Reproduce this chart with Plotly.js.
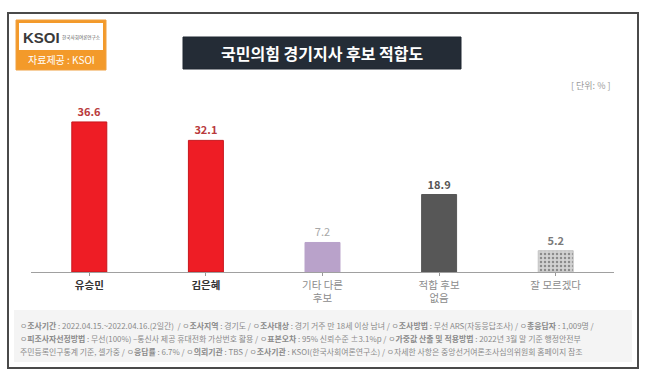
<!DOCTYPE html>
<html><head><meta charset="utf-8">
<script src="https://cdn.plot.ly/plotly-3.0.1.min.js"></script>
<style>html,body{margin:0;padding:0;background:#fff}#c{width:647px;height:378px}</style>
</head><body><div id="c"></div>
<script>
const categories = ['유승민', '김은혜', '기타 다른<br>후보', '적합 후보<br>없음', '잘 모르겠다'];
const values = [36.6, 32.1, 7.2, 18.9, 5.2];
const labelBold = [true, true, false, false, false];
const barColors = ['#EE1D25', '#EE1D25', '#B9A2CA', '#575757', '#D2D2D2'];
const barLines = ['#C8161D', '#C8161D', '#B9A2CA', '#575757', '#C4C4C4'];
const valueColors = ['#B93A3D', '#B93A3D', '#A8A8A8', '#555555', '#7A7A7A'];
const catColors = ['#333333', '#333333', '#8C8C8C', '#8C8C8C', '#8C8C8C'];
const titleText = '국민의힘 경기지사 후보 적합도';
const unitText = '[ 단위: % ]';
const footerLines = [
  'ㅇ<b>조사기간</b> : 2022.04.15.~2022.04.16.(2일간)  / ㅇ<b>조사지역</b> : 경기도 / ㅇ<b>조사대상</b> : 경기 거주 만 18세 이상 남녀 / ㅇ<b>조사방법</b> : 무선 ARS(자동응답조사) / ㅇ<b>총응답자</b> : 1,009명 /',
  'ㅇ<b>피조사자선정방법</b> : 무선(100%) –통신사 제공 휴대전화 가상번호 활용 / ㅇ<b>표본오차</b> : 95% 신뢰수준 ±3.1%p / ㅇ<b>가중값 산출 및 적용방법</b> : 2022년 3월 말 기준 행정안전부',
  '주민등록인구통계 기준, 셀가중 / ㅇ<b>응답률</b> : 6.7% / ㅇ<b>의뢰기관</b> : TBS / ㅇ<b>조사기관</b> : KSOI(한국사회여론연구소) / ㅇ자세한 사항은 중앙선거여론조사심의위원회 홈페이지 참조'
];

const FONT = '"Noto Sans CJK KR", "Noto Sans", sans-serif';
const L = 31, R = 614, T = 108, B = 272;
const px = x => (x - L) / (R - L);
const py = y => (B - y) / (B - T);

const ticktext = categories.map((c, i) =>
  `<span style="color:${catColors[i]}">${labelBold[i] ? '<b>' + c + '</b>' : c}</span>`);

const trace = {
  type: 'bar',
  x: categories.map((c, i) => i),
  y: values,
  width: 0.3,
  marker: {
    color: barColors,
    line: {color: barLines, width: 1},
    pattern: {shape: ['', '', '', '', '.'], fillmode: 'overlay', fgcolor: '#B4B4B4', size: 4, solidity: 0.3}
  },
  text: values.map(v => v.toFixed(1)),
  texttemplate: values.map((v, i) => i === 2 ? '%{text}' : '<b>%{text}</b>'),
  textposition: 'outside',
  cliponaxis: false,
  textfont: {family: FONT, size: 11, color: valueColors},
  hoverinfo: 'none'
};

const shapes = [
  {type: 'rect', xref: 'paper', yref: 'paper', x0: px(8), x1: px(638), y0: py(13), y1: py(368), line: {color: '#4a4a4a', width: 2}, fillcolor: 'rgba(0,0,0,0)', layer: 'below'},
  {type: 'rect', xref: 'paper', yref: 'paper', x0: px(14), x1: px(632), y0: py(310), y1: py(362), line: {width: 0}, fillcolor: '#F4F4F4', layer: 'below'},
  {type: 'rect', xref: 'paper', yref: 'paper', x0: px(183), x1: px(461), y0: py(37), y1: py(69), line: {color: '#1f2630', width: 1}, fillcolor: '#242C36', layer: 'below'},
  {type: 'rect', xref: 'paper', yref: 'paper', x0: px(16), x1: px(106), y0: py(20), y1: py(70), line: {color: '#F0A040', width: 1}, fillcolor: '#F39A2A', layer: 'below'},
  {type: 'rect', xref: 'paper', yref: 'paper', x0: px(19), x1: px(103), y0: py(23), y1: py(50), line: {width: 0}, fillcolor: '#FFFFFF', layer: 'below'}
];

const annotations = [
  {xref: 'paper', yref: 'paper', x: px(322), y: py(53), text: '<b>' + titleText + '</b>', showarrow: false, font: {family: FONT, size: 16, color: '#FFFFFF'}, xanchor: 'center', yanchor: 'middle'},
  {xref: 'paper', yref: 'paper', x: px(612), y: py(85), text: unitText, showarrow: false, font: {family: FONT, size: 9, color: '#9a9a9a'}, xanchor: 'right', yanchor: 'middle'},
  {xref: 'paper', yref: 'paper', x: px(21), y: py(37), text: '<b>KSOI</b>', showarrow: false, font: {family: 'Arial, "Liberation Sans", sans-serif', size: 15, color: '#3a3a3a'}, xanchor: 'left', yanchor: 'middle'},
  {xref: 'paper', yref: 'paper', x: px(60), y: py(37), text: '한국사회여론연구소', showarrow: false, font: {family: FONT, size: 4.6, color: '#555555'}, xanchor: 'left', yanchor: 'middle'},
  {xref: 'paper', yref: 'paper', x: px(61), y: py(60), text: '자료제공 : KSOI', showarrow: false, font: {family: FONT, size: 10, color: '#FFFFFF'}, xanchor: 'center', yanchor: 'middle'}
];
footerLines.forEach((t, i) => {
  annotations.push({xref: 'paper', yref: 'paper', x: px(18), y: py(325 + i * 13), text: t, showarrow: false,
    font: {family: FONT, size: 7.9, color: '#8a8a8a'}, xanchor: 'left', yanchor: 'middle'});
});

const layout = {
  width: 647, height: 378,
  margin: {l: L, r: 647 - R, t: T, b: 378 - B, pad: 0},
  paper_bgcolor: '#FFFFFF', plot_bgcolor: 'rgba(0,0,0,0)',
  showlegend: false,
  font: {family: FONT},
  xaxis: {
    range: [-0.5, 4.5], tickmode: 'array', tickvals: [0, 1, 2, 3, 4], ticktext: ticktext,
    tickson: 'boundaries', ticks: 'outside', ticklen: 3, tickcolor: '#999999', tickwidth: 1,
    showline: true, linecolor: '#A0A0A0', linewidth: 1, showgrid: false, zeroline: false,
    tickfont: {family: FONT, size: 10.5, color: '#333333'}, fixedrange: true
  },
  yaxis: {range: [0, 40], visible: false, showgrid: false, zeroline: false, fixedrange: true},
  shapes: shapes,
  annotations: annotations
};

Plotly.newPlot('c', [trace], layout, {displayModeBar: false, staticPlot: true});
</script>
</body></html>
